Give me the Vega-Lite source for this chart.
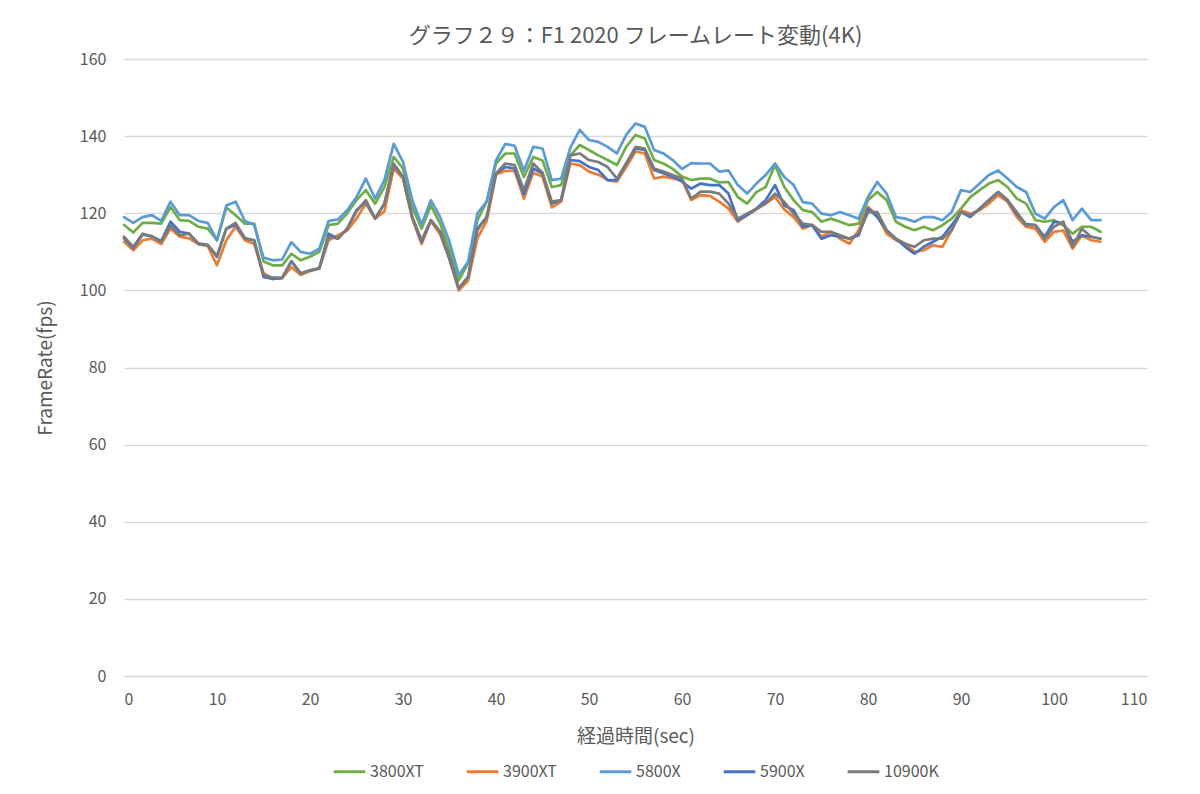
{
  "$schema": "https://vega.github.io/schema/vega-lite/v6.json",
  "width": 1023,
  "height": 617,
  "autosize": {"type": "none"},
  "padding": {"left": 124, "top": 59, "right": 53, "bottom": 118},
  "background": "white",
  "title": {
    "text": "グラフ２９：F1 2020 フレームレート変動(4K)",
    "font": "Noto Sans CJK JP",
    "fontSize": 22,
    "fontWeight": "normal",
    "color": "#595959",
    "anchor": "middle",
    "offset": 3
  },
  "data": {
    "values": [
      {"t":0,"3800XT":117,"3900XT":112.6,"5800X":119,"5900X":113.5,"10900K":113.9},
      {"t":1,"3800XT":115,"3900XT":110.4,"5800X":117.5,"5900X":111,"10900K":111.3},
      {"t":2,"3800XT":117.5,"3900XT":113,"5800X":119,"5900X":114.5,"10900K":114.7},
      {"t":3,"3800XT":117.5,"3900XT":113.4,"5800X":119.5,"5900X":114,"10900K":114},
      {"t":4,"3800XT":117.3,"3900XT":112,"5800X":118,"5900X":112.8,"10900K":112.6},
      {"t":5,"3800XT":121.6,"3900XT":116,"5800X":123,"5900X":117.8,"10900K":116.8},
      {"t":6,"3800XT":118.2,"3900XT":113.9,"5800X":119.5,"5900X":115.2,"10900K":114.3},
      {"t":7,"3800XT":118,"3900XT":113.5,"5800X":119.5,"5900X":114.7,"10900K":114.7},
      {"t":8,"3800XT":116.5,"3900XT":112,"5800X":118,"5900X":112.2,"10900K":112},
      {"t":9,"3800XT":116,"3900XT":111.5,"5800X":117.5,"5900X":111.8,"10900K":111.7},
      {"t":10,"3800XT":113,"3900XT":106.5,"5800X":113,"5900X":108.7,"10900K":109},
      {"t":11,"3800XT":121.5,"3900XT":113,"5800X":122,"5900X":116,"10900K":116},
      {"t":12,"3800XT":119.5,"3900XT":116.5,"5800X":123,"5900X":117,"10900K":117.5},
      {"t":13,"3800XT":117.3,"3900XT":113,"5800X":118,"5900X":113.5,"10900K":113.5},
      {"t":14,"3800XT":117.3,"3900XT":112,"5800X":117,"5900X":113,"10900K":113},
      {"t":15,"3800XT":107.5,"3900XT":104.5,"5800X":108.5,"5900X":103.5,"10900K":104},
      {"t":16,"3800XT":106.5,"3900XT":103,"5800X":107.8,"5900X":103,"10900K":103.3},
      {"t":17,"3800XT":106.5,"3900XT":103.2,"5800X":108,"5900X":103.2,"10900K":103.3},
      {"t":18,"3800XT":109.5,"3900XT":106,"5800X":112.5,"5900X":107.6,"10900K":107.5},
      {"t":19,"3800XT":107.8,"3900XT":104,"5800X":110,"5900X":104.4,"10900K":104.4},
      {"t":20,"3800XT":108.7,"3900XT":105,"5800X":109.5,"5900X":105.2,"10900K":105.2},
      {"t":21,"3800XT":110,"3900XT":105.7,"5800X":110.8,"5900X":105.7,"10900K":105.7},
      {"t":22,"3800XT":116.9,"3900XT":113,"5800X":118,"5900X":114.7,"10900K":113.9},
      {"t":23,"3800XT":117.3,"3900XT":114.3,"5800X":118.4,"5900X":113.4,"10900K":113.4},
      {"t":24,"3800XT":120,"3900XT":115.5,"5800X":120.8,"5900X":116,"10900K":116},
      {"t":25,"3800XT":123.4,"3900XT":118.6,"5800X":124.2,"5900X":120.8,"10900K":120.5},
      {"t":26,"3800XT":126,"3900XT":122.5,"5800X":129,"5900X":123,"10900K":123.4},
      {"t":27,"3800XT":122.5,"3900XT":118.6,"5800X":123.8,"5900X":118.6,"10900K":118.6},
      {"t":28,"3800XT":126.8,"3900XT":120.5,"5800X":128.6,"5900X":122.5,"10900K":122.5},
      {"t":29,"3800XT":134.6,"3900XT":131.6,"5800X":138,"5900X":132.5,"10900K":132.9},
      {"t":30,"3800XT":131.6,"3900XT":129,"5800X":133.3,"5900X":129.4,"10900K":129.4},
      {"t":31,"3800XT":121.6,"3900XT":118.5,"5800X":123.4,"5900X":119,"10900K":119},
      {"t":32,"3800XT":116,"3900XT":112,"5800X":117,"5900X":112.6,"10900K":113},
      {"t":33,"3800XT":122,"3900XT":118,"5800X":123.4,"5900X":118.2,"10900K":118.2},
      {"t":34,"3800XT":117.3,"3900XT":114.5,"5800X":119,"5900X":115.2,"10900K":115.2},
      {"t":35,"3800XT":110.4,"3900XT":108,"5800X":112.6,"5900X":108.2,"10900K":108.7},
      {"t":36,"3800XT":102.6,"3900XT":100,"5800X":104,"5900X":100.5,"10900K":100.5},
      {"t":37,"3800XT":107,"3900XT":102.5,"5800X":107.4,"5900X":103.5,"10900K":103.5},
      {"t":38,"3800XT":118.2,"3900XT":113.5,"5800X":120,"5900X":116,"10900K":115.6},
      {"t":39,"3800XT":123,"3900XT":118,"5800X":123,"5900X":119,"10900K":119},
      {"t":40,"3800XT":132.9,"3900XT":130,"5800X":133.7,"5900X":130.3,"10900K":130.3},
      {"t":41,"3800XT":135.5,"3900XT":131,"5800X":138,"5900X":132,"10900K":132.9},
      {"t":42,"3800XT":135.5,"3900XT":131,"5800X":137.5,"5900X":131.6,"10900K":132.5},
      {"t":43,"3800XT":129.4,"3900XT":123.8,"5800X":131,"5900X":125,"10900K":126},
      {"t":44,"3800XT":134.6,"3900XT":130.5,"5800X":137.2,"5900X":131.6,"10900K":132.9},
      {"t":45,"3800XT":133.7,"3900XT":129.5,"5800X":136.8,"5900X":130.3,"10900K":130.5},
      {"t":46,"3800XT":126.8,"3900XT":121.5,"5800X":128.6,"5900X":122.5,"10900K":123},
      {"t":47,"3800XT":127.3,"3900XT":123,"5800X":129,"5900X":123.4,"10900K":123.4},
      {"t":48,"3800XT":135,"3900XT":132.9,"5800X":137,"5900X":133.8,"10900K":135},
      {"t":49,"3800XT":137.7,"3900XT":132.5,"5800X":141.6,"5900X":133.5,"10900K":135.5},
      {"t":50,"3800XT":136.4,"3900XT":130.8,"5800X":139,"5900X":132,"10900K":133.8},
      {"t":51,"3800XT":135,"3900XT":130,"5800X":138.5,"5900X":131.2,"10900K":133.3},
      {"t":52,"3800XT":133.8,"3900XT":128.6,"5800X":137.2,"5900X":128.6,"10900K":132},
      {"t":53,"3800XT":132.5,"3900XT":128.2,"5800X":135.5,"5900X":128.6,"10900K":129},
      {"t":54,"3800XT":137.2,"3900XT":132,"5800X":140.3,"5900X":132.9,"10900K":132.9},
      {"t":55,"3800XT":140.3,"3900XT":136,"5800X":143.3,"5900X":136.8,"10900K":137.2},
      {"t":56,"3800XT":139.4,"3900XT":135.5,"5800X":142.4,"5900X":136.4,"10900K":136.8},
      {"t":57,"3800XT":133.8,"3900XT":129,"5800X":136.4,"5900X":131.2,"10900K":131.6},
      {"t":58,"3800XT":132.9,"3900XT":129.5,"5800X":135.5,"5900X":130.4,"10900K":130.8},
      {"t":59,"3800XT":131.5,"3900XT":129,"5800X":133.8,"5900X":129.5,"10900K":129.9},
      {"t":60,"3800XT":129.5,"3900XT":128.6,"5800X":131.5,"5900X":128.2,"10900K":129},
      {"t":61,"3800XT":128.6,"3900XT":123.4,"5800X":133,"5900X":126.4,"10900K":123.8},
      {"t":62,"3800XT":129,"3900XT":124.7,"5800X":132.9,"5900X":127.7,"10900K":125.6},
      {"t":63,"3800XT":129,"3900XT":124.5,"5800X":132.9,"5900X":127.3,"10900K":125.6},
      {"t":64,"3800XT":128,"3900XT":123,"5800X":130.8,"5900X":127.3,"10900K":125.1},
      {"t":65,"3800XT":128.1,"3900XT":121.2,"5800X":131.1,"5900X":125.1,"10900K":122.5},
      {"t":66,"3800XT":124.2,"3900XT":117.8,"5800X":127.3,"5900X":118.2,"10900K":118.6},
      {"t":67,"3800XT":122.5,"3900XT":119.5,"5800X":125.1,"5900X":119.5,"10900K":119.9},
      {"t":68,"3800XT":125.5,"3900XT":121,"5800X":127.7,"5900X":121.2,"10900K":121.2},
      {"t":69,"3800XT":126.8,"3900XT":122.5,"5800X":129.9,"5900X":123.4,"10900K":122.5},
      {"t":70,"3800XT":132.5,"3900XT":124.2,"5800X":132.9,"5900X":127.3,"10900K":125.1},
      {"t":71,"3800XT":126.8,"3900XT":121,"5800X":129.4,"5900X":122,"10900K":122.9},
      {"t":72,"3800XT":123.4,"3900XT":119,"5800X":127.3,"5900X":120.8,"10900K":119.9},
      {"t":73,"3800XT":120.8,"3900XT":116,"5800X":122.9,"5900X":116.5,"10900K":117.3},
      {"t":74,"3800XT":120.3,"3900XT":117,"5800X":122.5,"5900X":116.9,"10900K":116.9},
      {"t":75,"3800XT":117.8,"3900XT":113.9,"5800X":119.9,"5900X":113.4,"10900K":115.2},
      {"t":76,"3800XT":118.6,"3900XT":115.2,"5800X":119.5,"5900X":114.3,"10900K":115.2},
      {"t":77,"3800XT":117.8,"3900XT":113.4,"5800X":120.3,"5900X":113.9,"10900K":114.3},
      {"t":78,"3800XT":116.9,"3900XT":112.1,"5800X":119.5,"5900X":113.4,"10900K":113.4},
      {"t":79,"3800XT":117.3,"3900XT":115.6,"5800X":118.6,"5900X":114.3,"10900K":114.7},
      {"t":80,"3800XT":123.4,"3900XT":121.6,"5800X":124.2,"5900X":121.2,"10900K":120.3},
      {"t":81,"3800XT":125.5,"3900XT":119.5,"5800X":128.1,"5900X":119,"10900K":120.3},
      {"t":82,"3800XT":123.4,"3900XT":114.7,"5800X":125.1,"5900X":115.6,"10900K":115.6},
      {"t":83,"3800XT":117.8,"3900XT":113,"5800X":119,"5900X":113.4,"10900K":113.4},
      {"t":84,"3800XT":116.5,"3900XT":112.1,"5800X":118.6,"5900X":111.3,"10900K":112.1},
      {"t":85,"3800XT":115.6,"3900XT":110,"5800X":117.8,"5900X":109.5,"10900K":111.3},
      {"t":86,"3800XT":116.5,"3900XT":110.4,"5800X":119,"5900X":111.3,"10900K":113},
      {"t":87,"3800XT":115.6,"3900XT":111.7,"5800X":119,"5900X":112.6,"10900K":113.4},
      {"t":88,"3800XT":116.9,"3900XT":111.3,"5800X":118.2,"5900X":113.9,"10900K":113.4},
      {"t":89,"3800XT":118.6,"3900XT":115.6,"5800X":120.3,"5900X":116.9,"10900K":115.6},
      {"t":90,"3800XT":121.2,"3900XT":120.8,"5800X":126,"5900X":120.3,"10900K":120.3},
      {"t":91,"3800XT":124.2,"3900XT":119.8,"5800X":125.5,"5900X":119,"10900K":119.5},
      {"t":92,"3800XT":126,"3900XT":120.8,"5800X":127.7,"5900X":121.2,"10900K":121},
      {"t":93,"3800XT":127.7,"3900XT":122.5,"5800X":129.9,"5900X":123.4,"10900K":123.4},
      {"t":94,"3800XT":128.6,"3900XT":124.7,"5800X":131.1,"5900X":125.5,"10900K":125.5},
      {"t":95,"3800XT":126.8,"3900XT":123,"5800X":129,"5900X":123.4,"10900K":123.4},
      {"t":96,"3800XT":123.8,"3900XT":119,"5800X":126.8,"5900X":119.8,"10900K":120.3},
      {"t":97,"3800XT":122.5,"3900XT":116.5,"5800X":125.5,"5900X":117.2,"10900K":116.9},
      {"t":98,"3800XT":118.2,"3900XT":116,"5800X":119.9,"5900X":116.9,"10900K":116.9},
      {"t":99,"3800XT":117.8,"3900XT":112.6,"5800X":118.6,"5900X":113.9,"10900K":113.4},
      {"t":100,"3800XT":118.2,"3900XT":115.2,"5800X":121.6,"5900X":117.8,"10900K":116.5},
      {"t":101,"3800XT":116.9,"3900XT":115.5,"5800X":123.4,"5900X":117.4,"10900K":117.8},
      {"t":102,"3800XT":114.7,"3900XT":110.8,"5800X":118.2,"5900X":112.6,"10900K":111.3},
      {"t":103,"3800XT":116.5,"3900XT":114.3,"5800X":121.2,"5900X":114.3,"10900K":116},
      {"t":104,"3800XT":116.5,"3900XT":113,"5800X":118.2,"5900X":113.9,"10900K":113.9},
      {"t":105,"3800XT":115.2,"3900XT":112.6,"5800X":118.2,"5900X":113.4,"10900K":113.4}
    ]
  },
  "transform": [
    {"fold": ["3800XT", "3900XT", "5800X", "5900X", "10900K"], "as": ["series", "fps"]}
  ],
  "mark": {"type": "line", "strokeWidth": 2.7, "strokeJoin": "round", "strokeCap": "round"},
  "encoding": {
    "x": {
      "field": "t",
      "type": "quantitative",
      "scale": {"domain": [0, 110], "nice": false},
      "axis": {
        "title": "経過時間(sec)",
        "values": [0, 10, 20, 30, 40, 50, 60, 70, 80, 90, 100, 110],
        "grid": false,
        "ticks": false,
        "domain": true,
        "domainColor": "#d9d9d9",
        "domainWidth": 1.3,
        "labelFont": "Noto Sans CJK JP",
        "labelFontSize": 16,
        "labelColor": "#595959",
        "labelPadding": 15,
        "titleFont": "Noto Sans CJK JP",
        "titleFontSize": 19,
        "titleFontWeight": "normal",
        "titleColor": "#595959",
        "titlePadding": 20
      }
    },
    "y": {
      "field": "fps",
      "type": "quantitative",
      "scale": {"domain": [0, 160], "nice": false},
      "axis": {
        "title": "FrameRate(fps)",
        "values": [0, 20, 40, 60, 80, 100, 120, 140, 160],
        "grid": true,
        "gridColor": "#d9d9d9",
        "gridWidth": 1.3,
        "ticks": false,
        "domain": false,
        "labelFont": "Noto Sans CJK JP",
        "labelFontSize": 16,
        "labelColor": "#595959",
        "labelPadding": 18,
        "titleFont": "Noto Sans CJK JP",
        "titleFontSize": 19,
        "titleFontWeight": "normal",
        "titleColor": "#595959",
        "titlePadding": 24
      }
    },
    "color": {
      "field": "series",
      "type": "nominal",
      "sort": ["3800XT", "3900XT", "5800X", "5900X", "10900K"],
      "scale": {
        "domain": ["3800XT", "3900XT", "5800X", "5900X", "10900K"],
        "range": ["#70AD47", "#ED7D31", "#5B9BD5", "#4472C4", "#7B7B7B"]
      },
      "legend": {
        "title": null,
        "orient": "bottom",
        "direction": "horizontal",
        "symbolType": "stroke",
        "symbolStrokeWidth": 3,
        "symbolSize": 1000,
        "labelFont": "Noto Sans CJK JP",
        "labelFontSize": 16,
        "labelColor": "#595959",
        "labelOffset": 3,
        "columnPadding": 36,
        "offset": 8
      }
    }
  },
  "config": {
    "view": {"stroke": null},
    "legend": {"layout": {"bottom": {"anchor": "middle"}}}
  }
}
